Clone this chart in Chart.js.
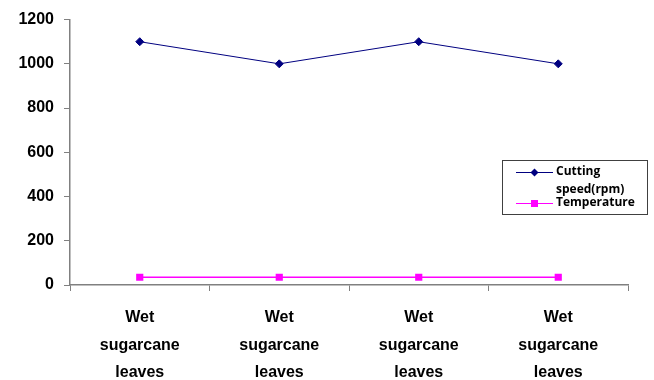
<!DOCTYPE html>
<html>
<head>
<meta charset="utf-8">
<script src="https://cdn.jsdelivr.net/npm/chart.js@4"></script>
<style>
  html, body { margin: 0; padding: 0; background: #fff; }
  #wrap { width: 654px; height: 380px; }
</style>
</head>
<body>
<div id="wrap"><canvas id="chart"></canvas></div>
<script>
// Data
const categories = [
    ['Wet', 'sugarcane', 'leaves'],
    ['Wet', 'sugarcane', 'leaves'],
    ['Wet', 'sugarcane', 'leaves'],
    ['Wet', 'sugarcane', 'leaves']
];
const cuttingSpeed = [1100, 1000, 1100, 1000];
const temperature = [35, 35, 35, 35];
const yTicks = [0, 200, 400, 600, 800, 1000, 1200];

// Legend box drawn by hand so the wrapped label sits like the original
const boxLegend = {
    id: 'boxLegend',
    afterDraw(chart) {
        const ctx = chart.ctx;
        ctx.save();
        ctx.strokeStyle = '#404040';
        ctx.lineWidth = 1;
        ctx.strokeRect(502.5, 160.5, 145, 54);

        ctx.font = 'bold 12px "Open Sans", sans-serif';
        ctx.textBaseline = 'middle';

        // Cutting speed
        ctx.strokeStyle = '#000080';
        ctx.beginPath();
        ctx.moveTo(516, 172.5);
        ctx.lineTo(553, 172.5);
        ctx.stroke();
        ctx.fillStyle = '#000080';
        ctx.beginPath();
        ctx.moveTo(534.5, 168.5);
        ctx.lineTo(538.5, 172.5);
        ctx.lineTo(534.5, 176.5);
        ctx.lineTo(530.5, 172.5);
        ctx.closePath();
        ctx.fill();
        ctx.fillStyle = '#000';
        ctx.fillText('Cutting', 556, 172);
        ctx.fillText('speed(rpm)', 556, 190);

        // Temperature
        ctx.strokeStyle = '#ff00ff';
        ctx.beginPath();
        ctx.moveTo(516, 203.5);
        ctx.lineTo(553, 203.5);
        ctx.stroke();
        ctx.fillStyle = '#ff00ff';
        ctx.fillRect(531, 200, 7, 7);
        ctx.fillStyle = '#000';
        ctx.fillText('Temperature', 556, 203);
        ctx.restore();
    }
};

new Chart(document.getElementById('chart'), {
    type: 'line',
    data: {
        labels: categories,
        datasets: [{
            label: 'Cutting speed(rpm)',
            data: cuttingSpeed,
            borderColor: '#000080',
            backgroundColor: '#000080',
            borderWidth: 1,
            pointStyle: 'rectRot',
            pointRadius: 4,
            pointHoverRadius: 4,
            tension: 0,
            fill: false
        }, {
            label: 'Temperature',
            data: temperature,
            borderColor: '#ff00ff',
            backgroundColor: '#ff00ff',
            borderWidth: 1.5,
            pointStyle: 'rect',
            pointRadius: 4,
            pointHoverRadius: 4,
            tension: 0,
            fill: false
        }]
    },
    options: {
        responsive: true,
        maintainAspectRatio: false,
        animation: false,
        events: [],
        layout: {
            padding: { left: 0, right: 26, top: 19, bottom: 0 }
        },
        plugins: {
            legend: { display: false },
            tooltip: { enabled: false }
        },
        scales: {
            x: {
                type: 'category',
                offset: true,
                grid: {
                    offset: true,
                    drawOnChartArea: false,
                    drawTicks: true,
                    tickLength: 6,
                    color: '#808080'
                },
                border: { color: '#808080', width: 1.5 },
                ticks: {
                    color: '#000',
                    padding: 13,
                    maxRotation: 0,
                    autoSkip: false,
                    font: { family: '"Liberation Sans", Arial, sans-serif', size: 16, weight: 'bold', lineHeight: 1.72 }
                },
                afterFit(scale) { scale.height = 95; }
            },
            y: {
                min: 0,
                max: 1200,
                afterBuildTicks(scale) {
                    scale.ticks = yTicks.map(v => ({ value: v }));
                },
                grid: {
                    drawOnChartArea: false,
                    drawTicks: true,
                    tickLength: 6,
                    color: '#808080'
                },
                border: { color: '#808080', width: 1.5 },
                ticks: {
                    color: '#000',
                    padding: 10,
                    callback: v => String(v),
                    font: { family: '"Liberation Sans", Arial, sans-serif', size: 16, weight: 'bold' }
                },
                afterFit(scale) { scale.width = 70; }
            }
        }
    },
    plugins: [boxLegend]
});
</script>
</body>
</html>
